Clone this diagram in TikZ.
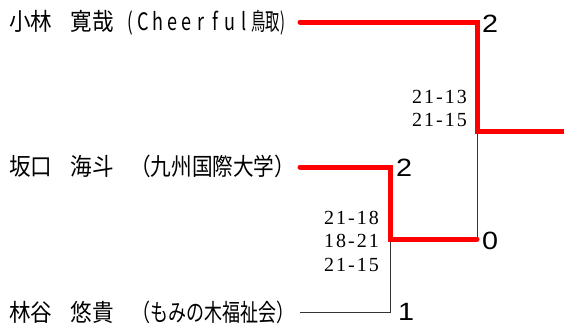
\documentclass[tikz,border=0pt]{standalone}
\usepackage{fontspec}
\newfontfamily\cjk{Noto Sans CJK JP}
\newfontfamily\arial{Liberation Sans}
\newfontfamily\tms[LetterSpace=10]{Liberation Serif}
\newcommand\lt[1]{\makebox[14.4pt]{\scalebox{0.75}[1]{#1}}}
\newcommand\cj[1]{\scalebox{0.9}[1]{#1}}
\begin{document}
\begin{tikzpicture}[x=1pt,y=-1pt,
  pname/.style={anchor=west,inner sep=0pt,font=\cjk\fontsize{24}{26}\selectfont},
  score/.style={anchor=east,inner sep=0pt,align=right,font=\tms\fontsize{20}{23.5}\selectfont},
  pts/.style={anchor=west,inner sep=0pt,font=\arial\fontsize{25}{26}\selectfont},
  win/.style={draw=red,line width=5pt,line cap=round,line join=miter},
  lose/.style={draw=black!80,line width=1pt}]
\useasboundingbox (0,0) rectangle (564,332);
\node[pname] (n1) at (9,23) {\cj{小林}\hspace{18pt}\cj{寛哉}\hspace{14pt}\scalebox{0.7}[1]{(}\hspace{3pt}\lt{C}\lt{h}\lt{e}\lt{e}\lt{r}\lt{f}\lt{u}\lt{l}\scalebox{0.6}[1]{鳥取)}};
\node[pname] (n2) at (9,166) {\cj{坂口}\hspace{18pt}\cj{海斗}\hspace{16.5pt}\scalebox{0.86}[1]{（九州国際大学）}};
\node[pname] (n3) at (9,312) {\cj{林谷}\hspace{18pt}\cj{悠貴}\hspace{19pt}\scalebox{0.75}[1]{（もみの木福祉会）}};
\coordinate (a1) at (300,22);
\coordinate (b1) at (477,22);
\coordinate (b2) at (477,131);
\coordinate (e) at (564,131);
\coordinate (a2) at (300,167);
\coordinate (c1) at (390,167);
\coordinate (c2) at (390,239);
\coordinate (b3) at (477,239);
\coordinate (a3) at (300,312);
\coordinate (c3) at (390,312);
\draw[lose] (b2) -- (b3);
\draw[lose] (a3) -- (c3) -- (c2);
\draw[win] (a1) -- (b1) -- (b2) -- ([xshift=3pt]e);
\draw[win] (a2) -- (c1) -- (c2) -- (b3);
\node[pts] (p1) at (482,24) {\scalebox{1.15}[1]{2}};
\node[pts] (p2) at (396,168) {\scalebox{1.15}[1]{2}};
\node[pts] (p3) at (482,241) {\scalebox{1.15}[1]{0}};
\node[pts] (p4) at (398,312) {\scalebox{1.15}[1]{1}};
\node[score] (s1) at (467,108.5) {21-13\\21-15};
\node[score] (s2) at (379,241) {21-18\\18-21\\21-15};
\end{tikzpicture}
\end{document}
